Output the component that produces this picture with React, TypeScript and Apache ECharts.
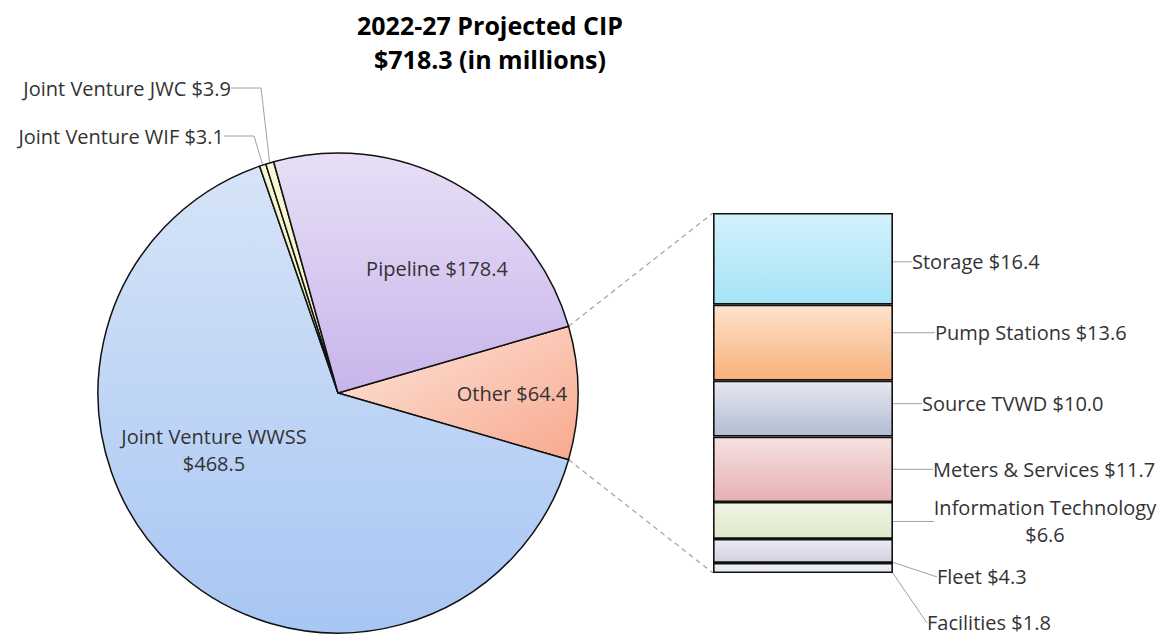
import React, { useEffect, useRef } from 'react';
import * as echarts from 'echarts';

// ---- data ----
const titleLines = ['2022-27 Projected CIP', '$718.3 (in millions)'];
const pieNames = ['Other', 'Joint Venture WWSS', 'Joint Venture WIF', 'Joint Venture JWC', 'Pipeline'];
const pieValues = [64.4, 468.5, 3.1, 3.9, 178.4];
const barNames = ['Storage', 'Pump Stations', 'Source TVWD', 'Meters & Services', 'Information Technology', 'Fleet', 'Facilities'];
const barValues = [16.4, 13.6, 10.0, 11.7, 6.6, 4.3, 1.8];

// ---- styles / layout ----
const FONT = 'Open Sans';
const CX = 338;
const CY = 393;
const R = 240;
const GRID = { left: 713, top: 213, width: 180, height: 360 };

const pieColors: [string, string][] = [
  ['#fde6dc', '#f8a98e'],
  ['#d6e4f8', '#a8c6f3'],
  ['#f6f6cf', '#eeeeb8'],
  ['#f8f8d8', '#efefbf'],
  ['#e8dff6', '#c8b4eb'],
];
const barColors: [string, string][] = [
  ['#d2f1fb', '#a6e3f7'],
  ['#fde3cc', '#f8b079'],
  ['#e6e8f1', '#b2bcd3'],
  ['#f5e1e1', '#e6b1b4'],
  ['#f0f5e6', '#dde9c9'],
  ['#ececf3', '#d0d0e0'],
  ['#f0f3f7', '#e3e8ef'],
];
// label placement: [x, y, align]
const pieLabelPos: [number, number, string][] = [
  [512, 393, 'center'],
  [214, 450, 'center'],
  [224, 136, 'right'],
  [231, 88, 'right'],
  [437, 268, 'center'],
];
// bar label offsets: [dx from bar right, dy from segment centre, align]
const barLabelOff: [number, number, string][] = [
  [19, 3, 'left'],
  [42, -10, 'left'],
  [29, -5, 'left'],
  [40, 0, 'left'],
  [152, 1, 'center'],
  [44, 26, 'left'],
  [34, 55, 'left'],
];

const grad = (c: [string, string], diag = false) => ({
  type: 'linear',
  x: 0,
  y: 0,
  x2: diag ? 1 : 0,
  y2: 1,
  colorStops: [
    { offset: 0, color: c[0] },
    { offset: 1, color: c[1] },
  ],
});

const fmt = (v: number) => '$' + v.toFixed(1);

export default function App() {
  const ref = useRef<HTMLDivElement>(null);
  useEffect(() => {
    if (!ref.current) return;
    const chart = echarts.init(ref.current, undefined, { renderer: 'svg' });
    const total = pieValues.reduce((a, b) => a + b, 0);
    const barTotal = barValues.reduce((a, b) => a + b, 0);
    const startAngle = (pieValues[0] / total) * 180;
    const rad = (startAngle * Math.PI) / 180;
    const px = CX + R * Math.cos(rad);
    const pyUp = CY - R * Math.sin(rad);
    const pyDown = CY + R * Math.sin(rad);

    const pieData = pieNames.map((n, i) => {
      const small = pieValues[i] < 10;
      return {
        name: n,
        value: pieValues[i],
        itemStyle: { color: grad(pieColors[i], i === 0) },
        label: small
          ? { position: 'outside' }
          : { position: 'inside' },
        labelLine: { show: small, lineStyle: { color: '#a0a0a0', width: 1 } },
      };
    });

    const barSeries = barNames.map((n, i) => ({
      type: 'bar',
      name: n,
      stack: 'other',
      data: [barValues[i]],
      barWidth: '100%',
      itemStyle: { color: grad(barColors[i]), borderColor: '#111', borderWidth: 1.6 },
      label: {
        show: true,
        position: 'right',
        formatter: () =>
          n === 'Information Technology' ? n + '\n' + fmt(barValues[i]) : n + ' ' + fmt(barValues[i]),
        fontFamily: FONT,
        fontSize: 20,
        lineHeight: 27,
        color: '#333',
        align: barLabelOff[i][2],
      },
      labelLine: { show: true, lineStyle: { color: '#a0a0a0', width: 1 } },
      labelLayout: (p: any) => ({
        x: GRID.left + GRID.width + barLabelOff[i][0],
        y: p.rect.y + p.rect.height / 2 + barLabelOff[i][1],
        align: barLabelOff[i][2],
        verticalAlign: 'middle',
      }),
      emphasis: { disabled: true },
      silent: true,
    }));

    chart.setOption({
      animation: false,
      backgroundColor: '#ffffff',
      graphic: [
        {
          type: 'text',
          x: 490,
          y: 25,
          style: {
            text: titleLines[0],
            font: `bold 25px "${FONT}"`,
            fill: '#000',
            textAlign: 'center',
            textVerticalAlign: 'middle',
          },
        },
        {
          type: 'text',
          x: 490,
          y: 59,
          style: {
            text: titleLines[1],
            font: `bold 25px "${FONT}"`,
            fill: '#000',
            textAlign: 'center',
            textVerticalAlign: 'middle',
          },
        },
        {
          type: 'line',
          z: -1,
          shape: { x1: px, y1: pyUp, x2: GRID.left, y2: GRID.top },
          style: { stroke: '#a6a6a6', lineWidth: 1.3, lineDash: [5, 4] },
        },
        {
          type: 'line',
          z: -1,
          shape: { x1: px, y1: pyDown, x2: GRID.left, y2: GRID.top + GRID.height },
          style: { stroke: '#a6a6a6', lineWidth: 1.3, lineDash: [5, 4] },
        },
      ],
      grid: { left: GRID.left, top: GRID.top, width: GRID.width, height: GRID.height },
      xAxis: { type: 'category', data: ['Other'], show: false, boundaryGap: true },
      yAxis: { type: 'value', min: 0, max: barTotal, inverse: true, show: false },
      series: [
        {
          type: 'pie',
          center: [CX, CY],
          radius: R,
          startAngle,
          clockwise: true,
          avoidLabelOverlap: false,
          silent: true,
          emphasis: { disabled: true },
          itemStyle: { borderColor: '#111', borderWidth: 1.5 },
          label: {
            show: true,
            formatter: (p: any) =>
              p.name === 'Joint Venture WWSS' ? p.name + '\n' + fmt(p.value) : p.name + ' ' + fmt(p.value),
            fontFamily: FONT,
            fontSize: 20,
            lineHeight: 27,
            color: '#333',
          },
          labelLayout: (p: any) => {
            const pos = pieLabelPos[p.dataIndex];
            return { x: pos[0], y: pos[1], align: pos[2], verticalAlign: 'middle' };
          },
          data: pieData,
        },
        ...barSeries,
      ],
    });
    return () => chart.dispose();
  }, []);
  return (
    <div
      ref={ref}
      style={{ position: 'fixed', left: 0, top: 0, width: 1169, height: 635, background: '#fff' }}
    />
  );
}
